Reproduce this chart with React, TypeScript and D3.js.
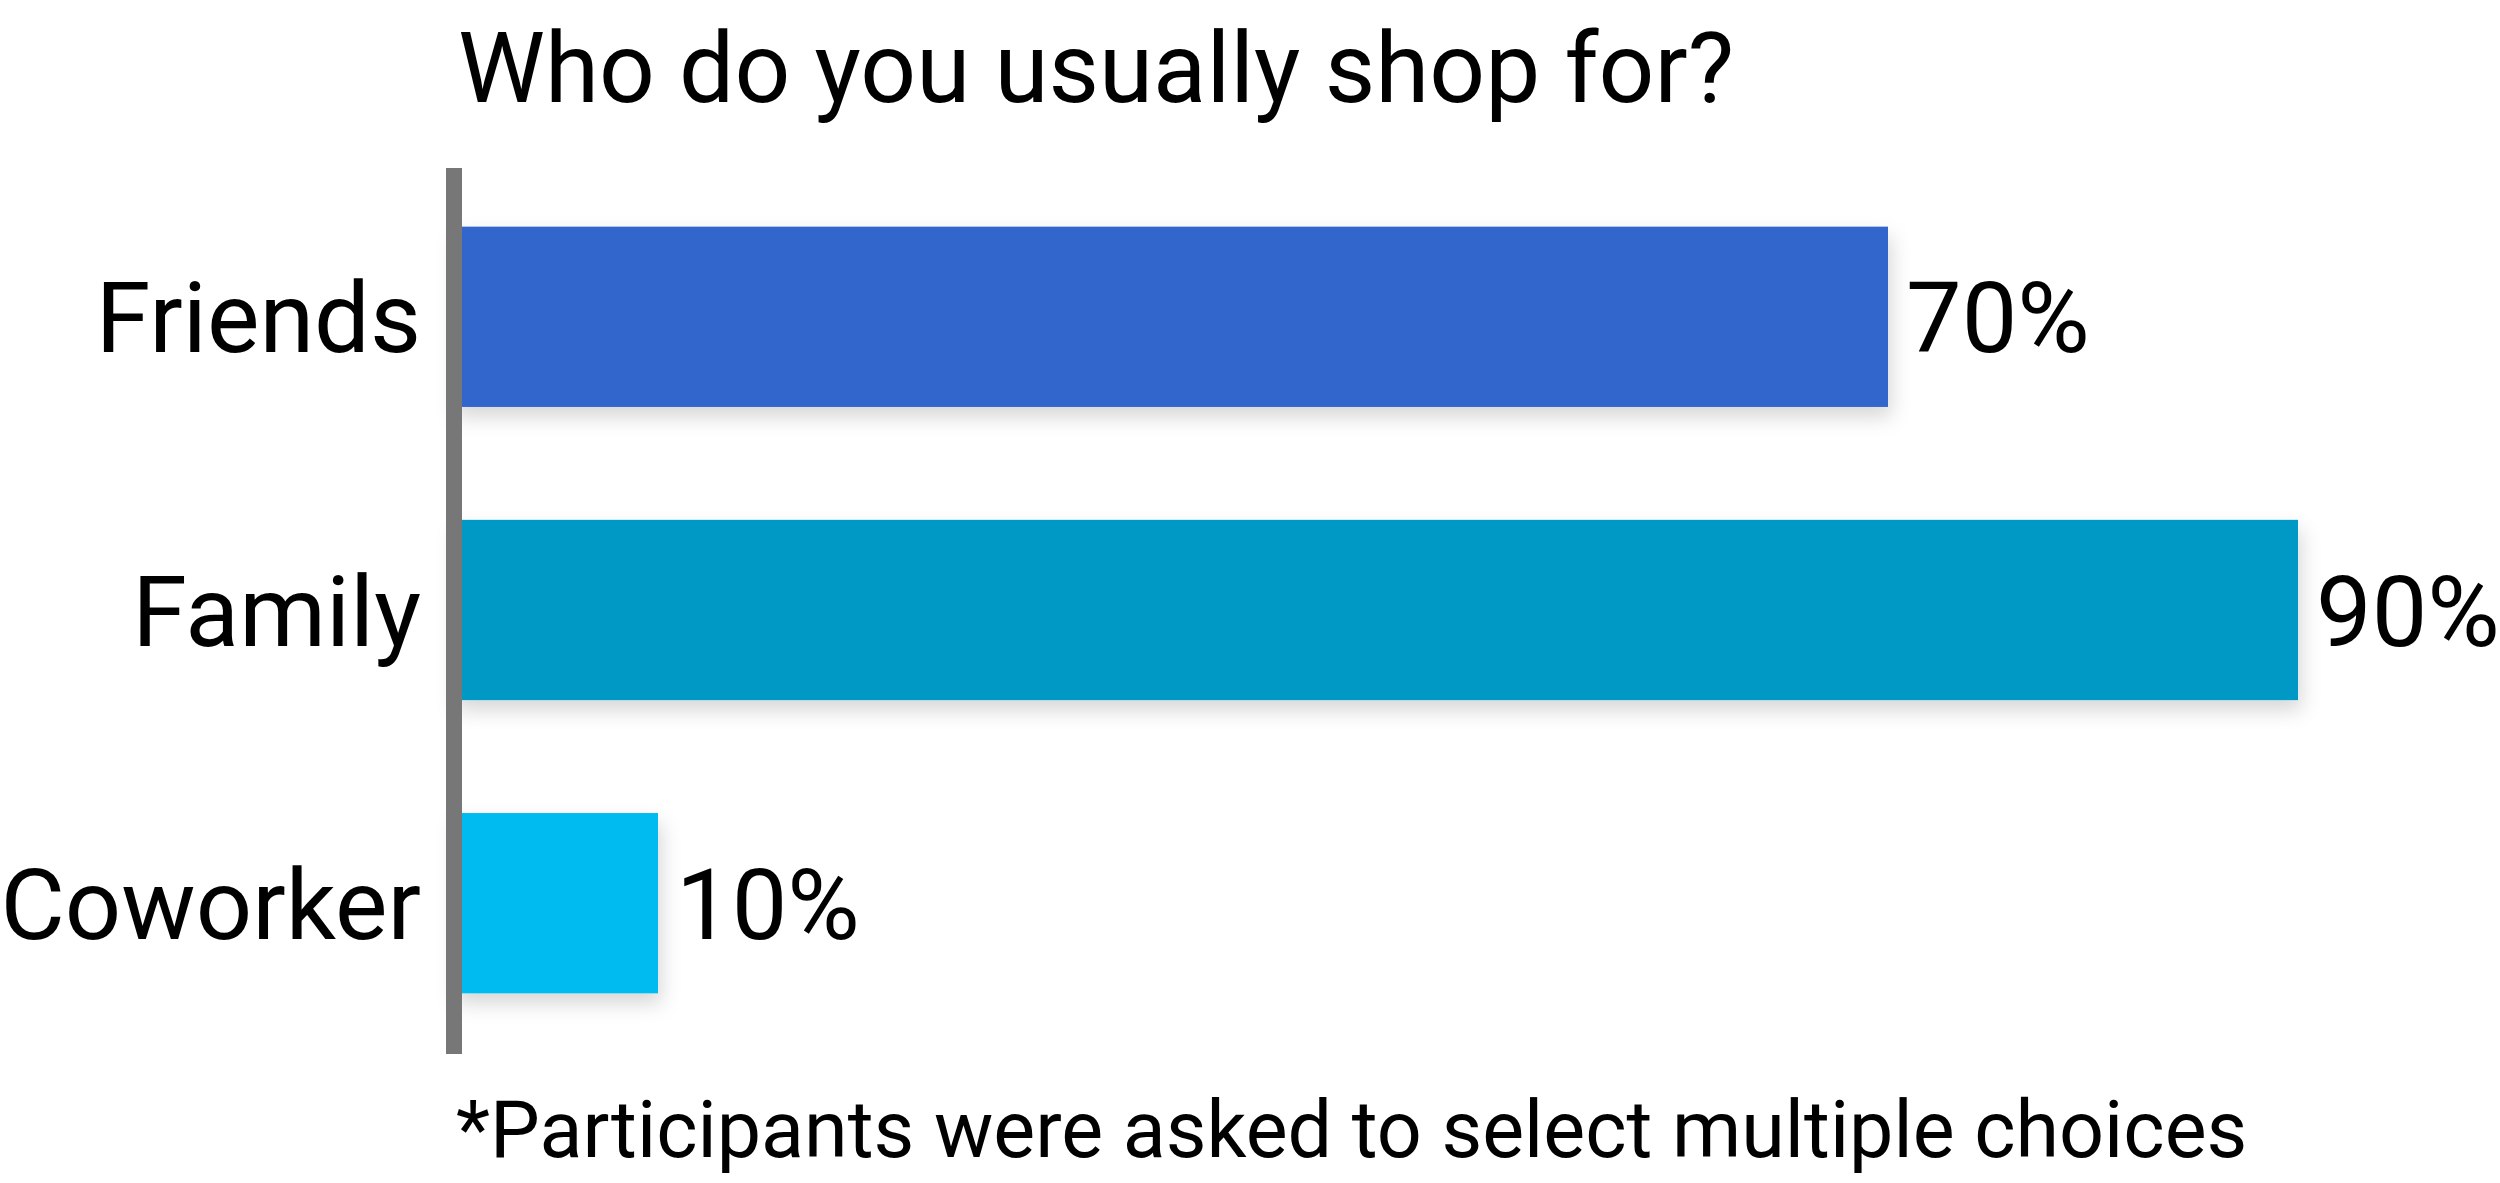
import { useEffect, useRef } from "react";
import * as d3 from "d3";

const categories = ["Friends", "Family", "Coworker"];
const values = [70, 90, 10];
const barColors = ["#3366cc", "#0099c6", "#00bbf0"];
const title = "Who do you usually shop for?";
const footnote = "*Participants were asked to select multiple choices";

export default function App() {
  const svgRef = useRef<SVGSVGElement>(null);

  useEffect(() => {
    if (!svgRef.current) return;
    const width = 2500;
    const height = 1183;
    const font = "Roboto, 'Noto Sans', sans-serif";

    const svg = d3.select(svgRef.current);
    svg.selectAll("*").remove();
    svg.attr("width", width).attr("height", height);

    // soft shadow under each bar
    const defs = svg.append("defs");
    const filter = defs
      .append("filter")
      .attr("id", "barShadow")
      .attr("x", "-10%")
      .attr("y", "-20%")
      .attr("width", "130%")
      .attr("height", "160%");
    filter
      .append("feDropShadow")
      .attr("dx", 3)
      .attr("dy", 10)
      .attr("stdDeviation", 10)
      .attr("flood-color", "#000")
      .attr("flood-opacity", 0.16);

    // zero sits under the axis line, bars start behind it
    const x = d3.scaleLinear().domain([0, 100]).range([453, 2503]);
    const y = d3
      .scaleBand<string>()
      .domain(categories)
      .range([168, 1052])
      .paddingInner(0.385)
      .paddingOuter(0.2);

    // Title
    svg
      .append("text")
      .attr("x", 458)
      .attr("y", 102)
      .attr("font-family", font)
      .attr("font-size", 98)
      .attr("fill", "#000")
      .text(title);

    // Bars
    svg
      .append("g")
      .selectAll("rect")
      .data(values)
      .join("rect")
      .attr("x", x(0))
      .attr("y", (_, i) => y(categories[i])!)
      .attr("width", (d) => x(d) - x(0))
      .attr("height", y.bandwidth())
      .attr("fill", (_, i) => barColors[i])
      .attr("filter", "url(#barShadow)");

    // Vertical axis line
    svg
      .append("rect")
      .attr("x", 446)
      .attr("y", 168)
      .attr("width", 16)
      .attr("height", 1054 - 168)
      .attr("fill", "#777777");

    // Category labels
    svg
      .append("g")
      .selectAll("text")
      .data(categories)
      .join("text")
      .attr("x", 421)
      .attr("y", (d) => y(d)! + y.bandwidth() / 2)
      .attr("dy", "0.36em")
      .attr("text-anchor", "end")
      .attr("font-family", font)
      .attr("font-size", 99)
      .attr("fill", "#000")
      .text((d) => d);

    // Value labels
    svg
      .append("g")
      .selectAll("text")
      .data(values)
      .join("text")
      .attr("x", (d) => x(d) + 18)
      .attr("y", (_, i) => y(categories[i])! + y.bandwidth() / 2)
      .attr("dy", "0.36em")
      .attr("font-family", font)
      .attr("font-size", 99)
      .attr("fill", "#000")
      .text((d) => `${d}%`);

    // Footnote
    svg
      .append("text")
      .attr("x", 456)
      .attr("y", 1157)
      .attr("font-family", font)
      .attr("font-size", 79)
      .attr("fill", "#000")
      .text(footnote);
  }, []);

  return (
    <div style={{ position: "absolute", left: 0, top: 0, background: "#fff" }}>
      <svg ref={svgRef} style={{ display: "block" }}></svg>
    </div>
  );
}
